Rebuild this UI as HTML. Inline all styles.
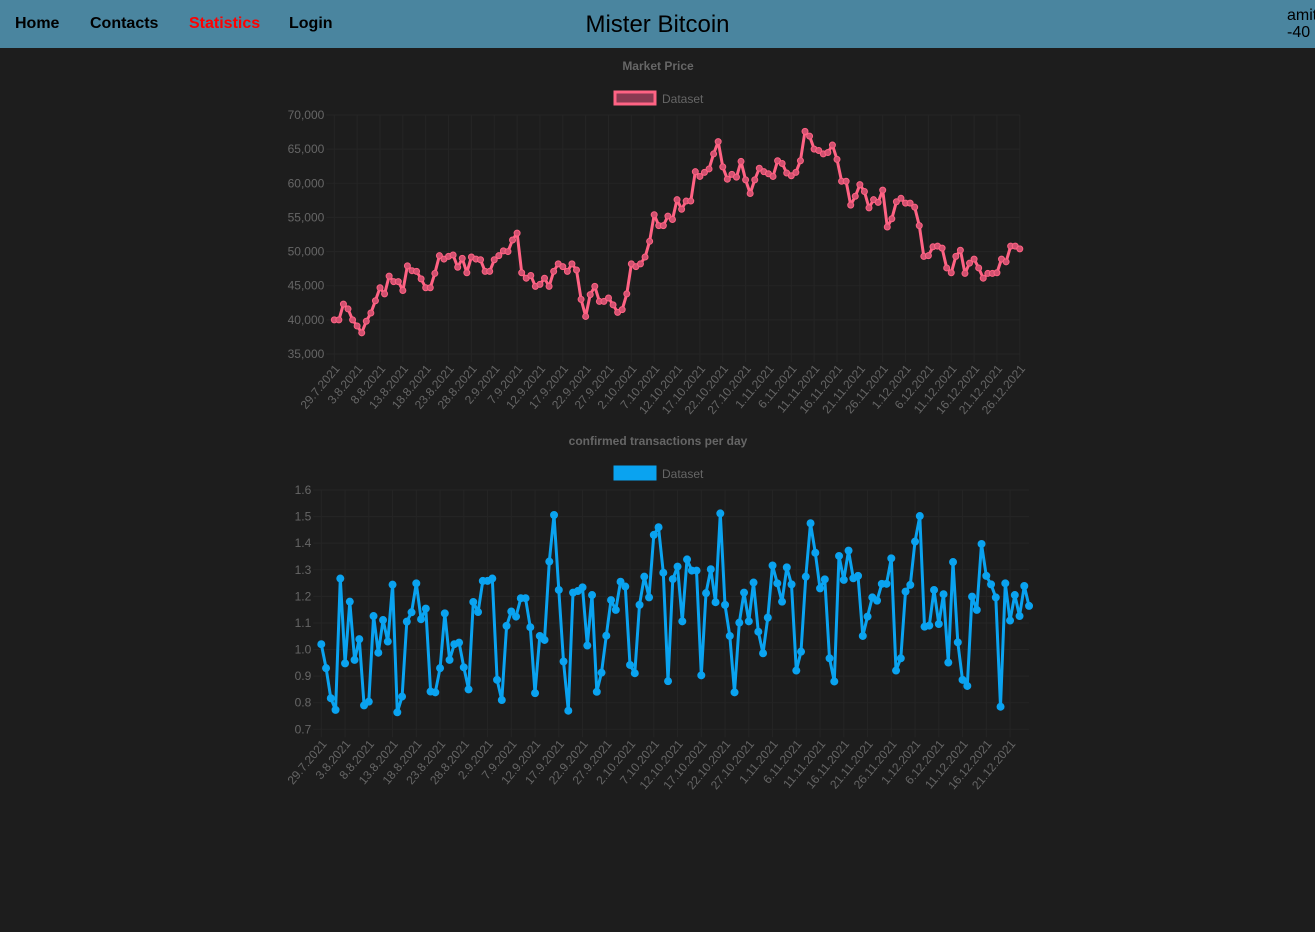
<!DOCTYPE html>
<html><head><meta charset="utf-8"><style>
body{margin:0;background:#1d1d1d;width:1315px;height:932px;overflow:hidden;font-family:"Liberation Sans",sans-serif}
.hdr{position:absolute;left:0;top:0;width:1315px;height:48px;background:#4a859f}
.nav{position:absolute;top:15px;font-size:16px;font-weight:bold;color:#000}
.ttl{position:absolute;left:0;width:1315px;top:11px;text-align:center;font-size:24px;color:#000}
.usr{position:absolute;left:1287px;top:7px;font-size:16px;line-height:17px;color:#000;white-space:nowrap}
svg{position:absolute;left:0;top:0}
</style></head><body>
<div class="hdr">
<span class="nav" style="left:15px">Home</span>
<span class="nav" style="left:90px">Contacts</span>
<span class="nav" style="left:189px;color:#f00">Statistics</span>
<span class="nav" style="left:289px">Login</span>
<div class="ttl">Mister Bitcoin</div>
<div class="usr">amit<br>-40</div>
</div>
<svg id="c" width="1315" height="932"></svg>
<script>
const priceValues=[40000,40000,42300,41600,40000,39100,38100,39800,41000,42800,44700,43800,46400,45600,45600,44300,47900,47200,47100,46000,44700,44700,46800,49400,48900,49300,49500,47700,49000,46900,49200,48900,48800,47100,47100,48800,49400,50100,50000,51700,52700,46900,46100,46500,44900,45200,46100,44900,47100,48200,47800,47100,48200,47300,43000,40500,43700,44900,42700,42700,43200,42200,41100,41500,43800,48200,47800,48200,49200,51500,55400,53800,53800,55200,54700,57600,56200,57400,57400,61700,61000,61600,62100,64300,66100,62400,60600,61300,60900,63200,60500,58500,60500,62200,61700,61400,61000,63300,62900,61500,61100,61600,63300,67600,66900,65000,64800,64300,64500,65600,63500,60300,60300,56800,58100,59800,58800,56400,57600,57200,59000,53600,54800,57300,57800,57100,57100,56500,53800,49300,49400,50700,50800,50500,47600,46900,49300,50200,46800,48300,48900,47600,46100,46800,46800,46900,48900,48500,50800,50800,50400];
const txValues=[1.02,0.93,0.817,0.773,1.267,0.948,1.18,0.961,1.039,0.79,0.804,1.126,0.988,1.111,1.03,1.244,0.764,0.823,1.105,1.14,1.249,1.114,1.154,0.842,0.839,0.93,1.136,0.961,1.02,1.026,0.933,0.85,1.179,1.141,1.258,1.258,1.267,0.886,0.81,1.089,1.143,1.124,1.193,1.193,1.084,0.836,1.051,1.036,1.331,1.506,1.224,0.955,0.77,1.214,1.22,1.234,1.015,1.205,0.841,0.913,1.052,1.186,1.149,1.255,1.237,0.942,0.911,1.168,1.274,1.196,1.431,1.46,1.289,0.881,1.265,1.312,1.106,1.339,1.297,1.297,0.903,1.212,1.302,1.178,1.512,1.168,1.051,0.839,1.101,1.214,1.106,1.252,1.067,0.986,1.12,1.316,1.249,1.18,1.309,1.245,0.921,0.992,1.274,1.475,1.364,1.23,1.264,0.967,0.88,1.352,1.262,1.372,1.268,1.277,1.051,1.124,1.196,1.184,1.247,1.247,1.343,0.921,0.967,1.218,1.243,1.406,1.502,1.086,1.09,1.224,1.096,1.208,0.951,1.329,1.027,0.886,0.863,1.199,1.149,1.397,1.277,1.245,1.196,0.785,1.249,1.109,1.205,1.126,1.239,1.164];
const priceTicks=[35000,40000,45000,50000,55000,60000,65000,70000];
const txTicks=[0.7,0.8,0.9,1.0,1.1,1.2,1.3,1.4,1.5,1.6];
const startDate=[2021,6,29];
const NS='http://www.w3.org/2000/svg';
const svg=document.getElementById('c');
function mk(tag,at,parent){const e=document.createElementNS(NS,tag);for(const k in at)e.setAttribute(k,at[k]);(parent||svg).appendChild(e);return e;}
function lbl(d){const dt=new Date(startDate[0],startDate[1],startDate[2]+d);return dt.getDate()+'.'+(dt.getMonth()+1)+'.'+dt.getFullYear();}
function chart(o){
  const x=d=>o.x0+d*o.dx, y=v=>o.y0+(v-o.vmin)/(o.vmax-o.vmin)*(o.y1-o.y0);
  const g=mk('g',{});
  
  
  const t=mk('text',{x:658,y:o.titleY,'text-anchor':'middle','font-size':12,'font-weight':'bold',fill:'#666'},g);t.textContent=o.title;
  
  
  const lb=mk('rect',{x:615,y:o.legY,width:40,height:12,fill:o.legFill,stroke:o.color,'stroke-width':3},g);
  
  
  const lt=mk('text',{x:662,y:o.legY+11,'font-size':12,fill:'#666'},g);lt.textContent='Dataset';
  
  
  const xmax=x(o.lastDay);
  o.ticks.forEach(v=>{
    mk('line',{x1:x(0)-8,x2:xmax,y1:y(v),y2:y(v),stroke:'#252525','stroke-width':1},g);
    const tt=mk('text',{x:x(0)-10,y:y(v)+4,'text-anchor':'end','font-size':12,fill:'#666'},g);
    tt.textContent=o.fmt(v);
    
    
  });
  for(let d=0;d<=o.lastLabel;d+=5){
    mk('line',{x1:x(d),x2:x(d),y1:o.y1,y2:o.y0+8,stroke:'#252525','stroke-width':1},g);
    const tx=mk('text',{x:x(d)+6,y:o.y0+15,'text-anchor':'end','font-size':12,fill:'#666',transform:`rotate(-50 ${x(d)+6} ${o.y0+15})`},g);
    tx.textContent=lbl(d);
    
    
  }
  const pts=o.vals.map((v,i)=>x(i).toFixed(1)+','+y(v).toFixed(1)).join(' ');
  const pl=mk('polyline',{points:pts,fill:'none',stroke:o.color,'stroke-width':3,'stroke-linejoin':'round'},g);
  
  
  o.vals.forEach((v,i)=>{
    const c=mk('circle',{cx:x(i),cy:y(v),r:o.r,fill:o.ptFill,stroke:o.color,'stroke-width':1},g);
    
    
  });
}
chart({name:'market-price-chart',title:'Market Price',titleY:70,legY:92,vals:priceValues,ticks:priceTicks,vmin:35000,vmax:70000,x0:334.3,dx:4.57,y0:354,y1:115,lastDay:150,lastLabel:150,color:'#ff6384',legFill:'#8a3a52',ptFill:'#d0506f',r:3,fmt:v=>v.toLocaleString('en-US')});
chart({name:'transactions-chart',title:'confirmed transactions per day',titleY:445,legY:467,vals:txValues,ticks:txTicks,vmin:0.7,vmax:1.6,x0:321.3,dx:4.75,y0:729.3,y1:490,lastDay:149,lastLabel:145,color:'#0aa3f0',legFill:'#0aa3f0',ptFill:'#0aa3f0',r:3.5,fmt:v=>v.toFixed(1)});
</script>
</body></html>
